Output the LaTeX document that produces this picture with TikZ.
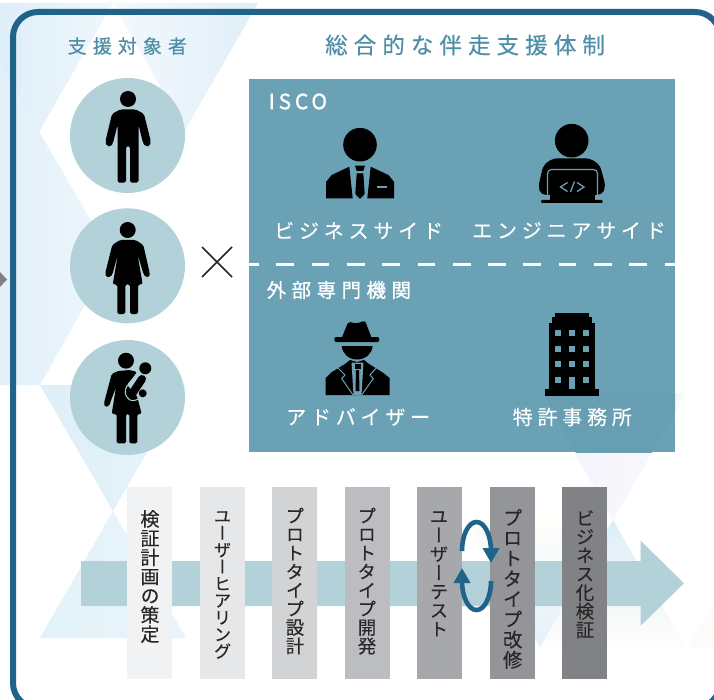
\documentclass[tikz,border=0pt]{standalone}
\usepackage{fontspec}
\usetikzlibrary{arrows.meta}
\setmainfont{Noto Sans CJK JP}
\newfontfamily\vfont[RawFeature={+vert},FakeBold=0.15]{Noto Sans CJK JP}
\definecolor{framec}{HTML}{1F6389}
\definecolor{panelc}{HTML}{6AA1B4}
\definecolor{softc}{HTML}{B2D1D9}
\definecolor{titlec}{HTML}{4E8FA7}
\definecolor{inkc}{HTML}{2A2526}
\newcommand{\hexc}[1]{\definecolor{#1}{HTML}{#1}}
\hexc{F3F9FD}\hexc{E0EEF8}\hexc{DDEEF8}\hexc{F0F7FC}\hexc{E2F0F9}\hexc{EDF6FC}\hexc{DFEEF7}\hexc{E6F4FA}\hexc{E3F2F9}\hexc{E9F4FA}\hexc{FEFEFA}\hexc{E4F1F8}\hexc{F2F5FC}\hexc{FBF8FB}\hexc{DDEEF7}\hexc{FBFCF8}\hexc{808080}\hexc{679EB2}\hexc{F1F2F4}\hexc{E6E7E9}\hexc{D2D3D5}\hexc{BCBDC0}\hexc{A7A8AB}\hexc{939598}\hexc{808285}
\newcommand{\spaced}[4]{\fontsize{#1}{#1}\selectfont\addfontfeatures{LetterSpace=#2,FakeBold=#3}#4}
\tikzset{
  titlelabel/.style={anchor=west,inner sep=0pt,text=titlec},
  whitelabel/.style={anchor=west,inner sep=0pt,text=white},
  softdisc/.style={circle,fill=softc,minimum size=115pt,inner sep=0pt},
  stepbar/.style={fill=#1,minimum width=45pt,minimum height=192pt,inner sep=0pt,anchor=north},
  steplabel/.style 2 args={anchor=north,inner sep=0pt,text=inkc,align=center,font=\vfont\fontsize{#1}{#2}\selectfont},
  icon/.style={fill=black,draw=none},
  iconcut/.style={fill=panelc,draw=none},
  cycle/.style={draw=framec,line width=4.6pt,-{Triangle[width=16pt,length=15pt]}},
}
\begin{document}
\begin{tikzpicture}[x=1pt,y=-1pt]
\useasboundingbox (0,0) rectangle (714,700);
\fill[white] (0,0) rectangle (714,700);
% background triangles
\shade[left color=F3F9FD,right color=E0EEF8] (113,3) -- (258,3) -- (185,130) -- cycle;
\shade[left color=DDEEF8,right color=F0F7FC] (0,3) -- (113,3) -- (40,130) -- (0,130) -- cycle;
\shade[left color=E2F0F9,right color=EDF6FC] (0,64) -- (112,257) -- (40,385) -- (0,385) -- cycle;
\shade[left color=DFEEF7,right color=E6F4FA] (40,385) -- (186,385) -- (113,511) -- cycle;
\shade[left color=E3F2F9,right color=E9F4FA] (113,511) -- (186,638) -- (40,638) -- cycle;
\shade[top color=FEFEFA,bottom color=E4F1F8] (467,520) -- (613,520) -- (540,647) -- cycle;
\shade[left color=F2F5FC,right color=FBF8FB] (540,393) -- (686,393) -- (613,520) -- cycle;
\shade[top color=DDEEF7,bottom color=FEFEFA] (613,520) -- (686,648) -- (540,648) -- cycle;
\fill[FBFCF8] (688,648) -- (714,603) -- (714,648) -- cycle;
% left grey marker
\fill[808080] (0,272) -- (7,279.5) -- (0,287) -- cycle;
% frame
\draw[framec,line width=6pt,rounded corners=25pt] (13,12) rectangle (720,708);
% titles
\node[titlelabel] (t1) at (67.5,46) {\spaced{19}{32}{0.5}{支援対象者}};
\node[titlelabel] (t2) at (325,45) {\spaced{22.5}{27}{0.5}{総合的な伴走支援体制}};
% people discs
\node[softdisc] (d1) at (127.5,135.5) {};
\node[softdisc] (d2) at (127.5,265.8) {};
\node[softdisc] (d3) at (127.5,397.5) {};
% man
\fill[icon] (128,99) circle (8);
\fill[icon,rounded corners=1.8pt] (120,109.5) -- (112,114) -- (105.5,141) -- (106.5,146) -- (111,146.5) -- (113,143) -- (117.5,125) -- (117.5,182.7) -- (126,182.7) -- (126,146) -- (130,146) -- (130,182.7) -- (138.5,182.7) -- (138.5,125) -- (143,143) -- (145.5,146.5) -- (150,146) -- (150.7,141) -- (144,114) -- (136,109.5) -- cycle;
% woman
\fill[icon] (127.7,230) circle (8);
\fill[icon,rounded corners=1.6pt] (120,240) -- (112.3,245) -- (105.3,273) -- (106,277) -- (110.5,277) -- (112.5,274) -- (118,254) -- (112.7,284.5) -- (117.3,284.5) -- (117.3,314) -- (125.3,314) -- (125.3,284.5) -- (130,284.5) -- (130,314) -- (138,314) -- (138,284.5) -- (142.7,284.5) -- (137.5,254) -- (143.5,274) -- (145.5,277) -- (149.5,277) -- (149.7,273) -- (143.3,245) -- (135.5,240) -- cycle;
% woman with baby
\fill[icon] (126,360.7) circle (8);
\fill[icon] (145.3,368.3) circle (6);
\fill[icon] (142.7,393.3) circle (4);
\fill[icon,rounded corners=1.5pt] (118,371) -- (111.7,374) -- (104,403) -- (105,407) -- (109,406) -- (116,387) -- (111.7,414) -- (116.7,414) -- (116.7,443.3) -- (126,443.3) -- (126,414) -- (129.3,414) -- (129.3,443.3) -- (137.3,443.3) -- (137.3,414) -- (141.7,414) -- (137,396) -- (127,385) -- (137,372) -- (130,370) -- cycle;
\draw[softc,line width=1pt] (136,377) .. controls (124,386) and (122,394) .. (130,400) .. controls (134,402) and (139,399) .. (140,397);
\draw[line width=8pt,line cap=round,black] (142,379) -- (132,394);
% times sign
\draw[inkc,line width=1.5pt] (202,247) -- (232,277) (232,247) -- (202,277);
% panel
\node[fill=panelc,minimum width=426pt,minimum height=373pt,inner sep=0pt,anchor=north west] (panel) at (249,79) {};
\begin{scope}
\clip (249,79) rectangle (675,452);
\fill[679EB2] (543,393) -- (686,393) -- (613,520) -- cycle;
\end{scope}
\coordinate (dashA) at (249,264.8);
\coordinate (dashB) at (675,264.8);
\draw[white,line width=2.8pt,dash pattern=on 17.7pt off 17.6pt,dash phase=8pt] (dashA) -- (dashB);
\node[whitelabel] (isco) at (268.5,101.5) {\spaced{21}{18}{1.2}{ISCO}};
\node[whitelabel] (ext) at (266.5,290) {\spaced{19.5}{28}{1}{外部専門機関}};
\node[whitelabel] (biz) at (274,230.5) {\spaced{20}{24}{0.2}{ビジネスサイド}};
\node[whitelabel] (eng) at (472,230.5) {\spaced{20}{24}{0.2}{エンジニアサイド}};
\node[whitelabel] (adv) at (286,417) {\spaced{20}{24}{0.2}{アドバイザー}};
\node[whitelabel] (pat) at (512.5,417) {\spaced{20}{24}{0.2}{特許事務所}};
% business icon
\fill[icon] (360,144.7) circle (16.8);
\fill[icon] (326,198.3) -- (326,182) -- (331.7,175) -- (349.3,166.7) -- (352.7,198.3) -- cycle;
\fill[icon] (394,198.3) -- (394,181.7) -- (388.3,175) -- (370.7,166.7) -- (367.3,198.3) -- cycle;
\fill[icon] (355,165.7) -- (365,165.7) -- (363.3,171) -- (356.7,171) -- cycle;
\fill[icon] (356.7,173.3) -- (363.3,173.3) -- (364.7,194) -- (360,199) -- (355.3,194) -- cycle;
\fill[iconcut] (376.7,185.7) rectangle (386.7,187.7);
% engineer icon
\fill[icon] (571.7,140.7) circle (16.8);
\fill[icon,rounded corners=5pt] (553,158.3) -- (590,158.3) -- (600,165) -- (605.7,186.7) -- (602,195) -- (541,195) -- (538.3,186.7) -- (543.3,165) -- cycle;
\draw[panelc,line width=1.2pt,rounded corners=4pt] (547.5,196) -- (547.5,169.5) -- (597.5,169.5) -- (597.5,196);
\fill[icon] (550,171.7) rectangle (595,201);
\fill[icon,rounded corners=1.2pt] (541,200) rectangle (602.7,203);
\draw[panelc,line width=1.3pt] (567.5,182.5) -- (560.5,187) -- (567.5,191.5) (574.5,181.5) -- (570.5,192) (577,182.5) -- (584,187) -- (577,191.5);
% advisor icon
\fill[icon,rounded corners=2pt] (334.3,337) rectangle (379.3,342);
\fill[icon,rounded corners=2pt] (341.7,338) -- (348.3,321.7) -- (356.5,323.5) -- (365,320.7) -- (371.7,338) -- cycle;
\fill[icon] (341.7,346) -- (372.7,346) .. controls (372,354) and (365,359.5) .. (357,359.5) .. controls (349,359.5) and (342.5,354) .. (341.7,346) -- cycle;
\fill[icon] (325.7,395) -- (325.7,378) -- (332,372) -- (345,364) -- (350,360) -- (357,362) -- (364,360) -- (369,364) -- (382,372) -- (389.7,378) -- (389.7,395) -- cycle;
\fill[iconcut] (351.5,362.5) -- (363.5,362.5) -- (361.5,395) -- (353.5,395) -- cycle;
\fill[icon] (354.5,363.5) -- (360.5,363.5) -- (360.5,368.5) -- (354.5,368.5) -- cycle;
\fill[icon] (356,370) -- (359,370) -- (359.5,391) -- (355.5,391) -- cycle;
\draw[panelc,line width=1pt] (337.5,367.5) -- (345,375) -- (341.7,378.5) -- (353,395);
\draw[panelc,line width=1pt] (376.7,367.5) -- (370,375) -- (373.3,378.5) -- (361.7,395);
% building icon
\fill[icon] (545,389.3) rectangle (599,396);
\fill[icon] (549,323.3) rectangle (595,389.5);
\fill[icon] (551.7,316.7) rectangle (592.3,323.5);
\fill[icon] (555,313.3) rectangle (589,316.9);
\foreach \wy in {333.3,349,364.3,380}{
  \foreach \wx in {558.3,571.7,585.7}{
    \fill[iconcut] (\wx-3,\wy-3) rectangle (\wx+3,\wy+3);
  }
}
\fill[iconcut] (569,377) rectangle (575,389.3);
% big arrow
\fill[softc] (81,561) -- (640.7,561) -- (640.7,540.7) -- (684,583.3) -- (640.7,625.7) -- (640.7,606) -- (81,606) -- cycle;
% step bars
\node[stepbar=F1F2F4] (s1) at (149.5,487) {};
\node[stepbar=E6E7E9] (s2) at (222.5,487) {};
\node[stepbar=D2D3D5] (s3) at (294.5,487) {};
\node[stepbar=BCBDC0] (s4) at (367.5,487) {};
\node[stepbar=A7A8AB] (s5) at (439.5,487) {};
\node[stepbar=939598] (s6) at (512.5,487) {};
\node[stepbar=808285] (s7) at (584.5,487) {};
\node[steplabel={19}{19.2}] (l1) at (150,510) {検\\証\\計\\画\\の\\策\\定};
\node[steplabel={17.4}{16.9}] (l2) at (222.5,511) {ユ\\ー\\ザ\\ー\\ヒ\\ア\\リ\\ン\\グ};
\node[steplabel={18.5}{18.6}] (l3) at (295,507.5) {プ\\ロ\\ト\\タ\\イ\\プ\\設\\計};
\node[steplabel={18.5}{18.6}] (l4) at (367,507.5) {プ\\ロ\\ト\\タ\\イ\\プ\\開\\発};
\node[steplabel={18.5}{18.8}] (l5) at (439,511) {ユ\\ー\\ザ\\ー\\テ\\ス\\ト};
\node[steplabel={19.5}{20.3}] (l6) at (512.7,509) {プ\\ロ\\ト\\タ\\イ\\プ\\改\\修};
\node[steplabel={18.5}{18.6}] (l7) at (585,510) {ビ\\ジ\\ネ\\ス\\化\\検\\証};
% cycle arrows
\coordinate (loopA) at (462,551);
\coordinate (loopB) at (491,563);
\coordinate (loopC) at (491,581);
\coordinate (loopD) at (462,568);
\draw[cycle] (loopA) arc[start angle=180,end angle=360,x radius=14.5,y radius=29] -- (loopB);
\draw[cycle] (loopC) arc[start angle=0,end angle=180,x radius=14.5,y radius=29] -- (loopD);
\end{tikzpicture}
\end{document}
